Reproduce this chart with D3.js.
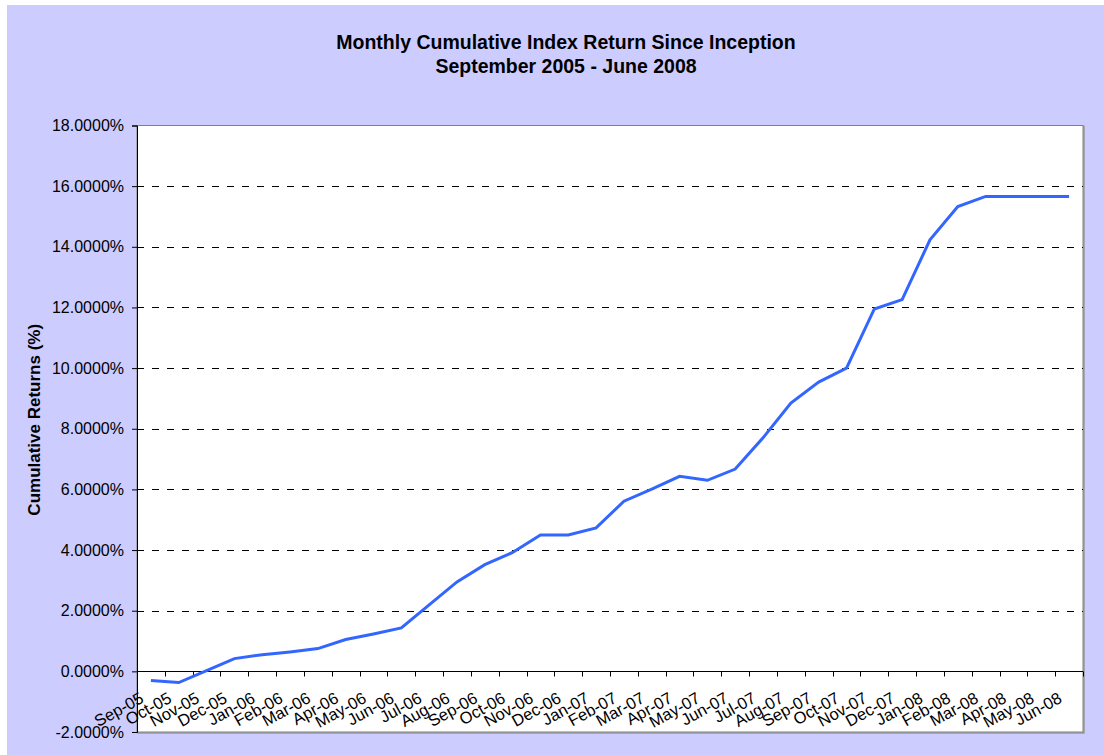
<!DOCTYPE html>
<html>
<head>
<meta charset="utf-8">
<script src="https://cdnjs.cloudflare.com/ajax/libs/d3/7.8.5/d3.min.js"></script>
<style>
  body { margin: 0; background: #fff; }
  svg text { font-family: Arial, "Liberation Sans", sans-serif; }
</style>
</head>
<body>
<div id="chart"></div>
<script>
// months on the x axis
const months = ["Sep-05","Oct-05","Nov-05","Dec-05","Jan-06","Feb-06","Mar-06","Apr-06","May-06","Jun-06",
  "Jul-06","Aug-06","Sep-06","Oct-06","Nov-06","Dec-06","Jan-07","Feb-07","Mar-07","Apr-07","May-07","Jun-07",
  "Jul-07","Aug-07","Sep-07","Oct-07","Nov-07","Dec-07","Jan-08","Feb-08","Mar-08","Apr-08","May-08","Jun-08"];
// cumulative return in percent
const cumReturns = [-0.30,-0.37,0.02,0.42,0.55,0.64,0.75,1.05,1.23,1.43,
  2.19,2.95,3.52,3.92,4.50,4.50,4.73,5.61,6.01,6.43,6.30,6.67,
  7.70,8.85,9.54,10.00,11.95,12.26,14.23,15.33,15.66,15.66,15.66,15.66];
const yTicks = [-2,0,2,4,6,8,10,12,14,16,18];
const titleLines = ["Monthly Cumulative Index Return Since Inception", "September 2005 - June 2008"];

const W = 1104, H = 755;
const plot = {left: 137, right: 1083, top: 125.5, bottom: 732};

const svg = d3.select("#chart").append("svg")
    .attr("width", W)
    .attr("height", H);

// chart background
svg.append("rect")
    .attr("x", 7).attr("y", 5)
    .attr("width", W - 7).attr("height", H - 5)
    .attr("fill", "#ccccff");

// title
svg.append("g").selectAll("text")
    .data(titleLines)
    .enter()
    .append("text")
    .attr("x", 566)
    .attr("y", (d, i) => 49 + i * 24)
    .attr("text-anchor", "middle")
    .attr("font-size", "19.5px")
    .attr("font-weight", "bold")
    .attr("fill", "#000")
    .text(d => d);

const x = d3.scaleBand()
    .domain(months)
    .range([plot.left, plot.right]);
const y = d3.scaleLinear()
    .domain([-2, 18])
    .range([plot.bottom, plot.top]);

// plot area with a small shadow
svg.append("rect")
    .attr("x", plot.left + 1).attr("y", plot.top + 1)
    .attr("width", plot.right - plot.left).attr("height", plot.bottom - plot.top)
    .attr("fill", "none")
    .attr("stroke", "#999")
    .attr("stroke-width", 1.5);
svg.append("rect")
    .attr("x", plot.left).attr("y", plot.top)
    .attr("width", plot.right - plot.left).attr("height", plot.bottom - plot.top)
    .attr("fill", "#fff")
    .attr("stroke", "#808080")
    .attr("stroke-width", 1);

// dashed gridlines
svg.append("g").selectAll("line")
    .data(yTicks.filter(d => d > 0 && d < 18))
    .enter()
    .append("line")
    .attr("x1", plot.left)
    .attr("x2", plot.right)
    .attr("y1", d => Math.round(y(d)) + 0.5)
    .attr("y2", d => Math.round(y(d)) + 0.5)
    .attr("stroke", "#000")
    .attr("stroke-dasharray", "7,8");

// y axis
const yAxis = d3.axisLeft(y)
    .tickValues(yTicks)
    .tickSize(5)
    .tickPadding(8)
    .tickFormat(d => d.toFixed(4) + "%");
svg.append("g")
    .attr("transform", "translate(" + plot.left + ",0)")
    .call(yAxis)
    .call(g => g.select(".domain").attr("stroke", "#000"))
    .call(g => g.selectAll(".tick text").attr("font-size", "16px").attr("fill", "#000").attr("font-family", "Arial, 'Liberation Sans', sans-serif"));

// x axis sits on the zero line
const zeroY = Math.round(y(0)) + 0.5;
const xAxis = d3.axisBottom(x).tickSize(0).tickPadding(0);
const xg = svg.append("g")
    .attr("transform", "translate(0," + zeroY + ")")
    .call(xAxis);
xg.select(".domain").attr("stroke", "#000").attr("d", "M" + plot.left + ",0H" + plot.right);
xg.selectAll(".tick text")
    .attr("y", 0)
    .attr("dy", 0)
    .attr("font-size", "16.5px")
    .attr("fill", "#000")
    .attr("font-family", "Arial, 'Liberation Sans', sans-serif")
    .attr("text-anchor", "end")
    .attr("transform", "translate(-6,30) rotate(-29)");
// tick marks on the category boundaries
xg.append("g").selectAll("line")
    .data(months.concat([null]))
    .enter()
    .append("line")
    .attr("x1", d => Math.round(d ? x(d) : plot.right) + 0.5)
    .attr("x2", d => Math.round(d ? x(d) : plot.right) + 0.5)
    .attr("y1", 0)
    .attr("y2", 5)
    .attr("stroke", "#000");

// y axis title
svg.append("text")
    .attr("transform", "translate(40," + ((plot.top + plot.bottom) / 2 - 9) + ") rotate(-90)")
    .attr("text-anchor", "middle")
    .attr("font-size", "17px")
    .attr("font-weight", "bold")
    .text("Cumulative Returns (%)");

// the line
const line = d3.line()
    .x((d, i) => x(months[i]) + x.bandwidth() / 2)
    .y(d => y(d));
svg.append("path")
    .datum(cumReturns)
    .attr("d", line)
    .attr("fill", "none")
    .attr("stroke", "#3366ff")
    .attr("stroke-width", 3);
</script>
</body>
</html>
